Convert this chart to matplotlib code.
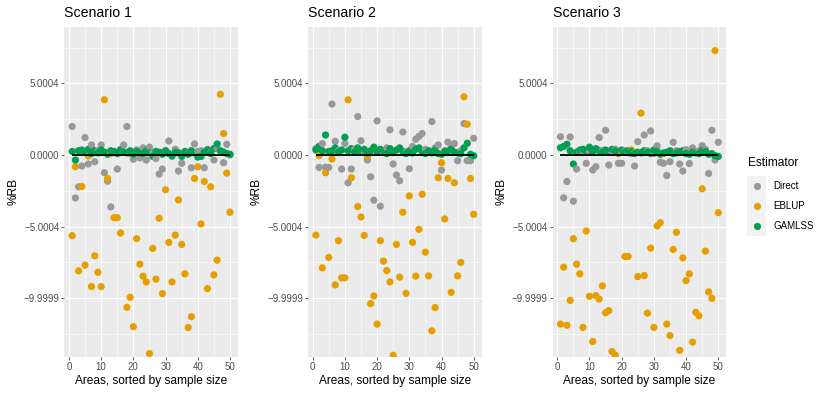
import matplotlib
matplotlib.use("Agg")
import matplotlib.pyplot as plt
from matplotlib.patches import Rectangle
from matplotlib.lines import Line2D

plt.rcParams['font.family'] = ['Liberation Sans', 'DejaVu Sans']

# ---------------- data ----------------
areas = list(range(1, 51))
scenarios = ["Scenario 1", "Scenario 2", "Scenario 3"]
estimators = ["Direct", "EBLUP", "GAMLSS"]
colors = {"Direct": "#999999", "EBLUP": "#E69F00", "GAMLSS": "#00A050"}

x_ticks = [0, 10, 20, 30, 40, 50]
y_tick_values = [5.0004, 0.0, -5.0004, -9.9999]
y_tick_labels = ["5.0004", "0.0000", "\u22125.0004", "\u22129.9999"]

direct_s1 = [1.99, -3.0, -2.22, -0.77, 1.22, -0.63, 0.7, -0.47, 0.3, 0.7,
             -1.24, -1.83, -3.63, 0.2, -0.98, 0.4, 0.7, 1.99, 0.1, -0.3,
             0.35, -0.2, 0.5, -0.35, 0.55, 0.15, -0.25, -1.33, -0.98, 0.3,
             0.98, -0.1, 0.4, -1.12, -0.58, 0.2, 0.1, -0.89, 0.77, 0.25,
             0.3, -0.89, 0.4, 0.15, -0.35, 0.45, 0.3, -0.54, 0.75, 0.0]
eblup_s1 = [-5.64, -0.82, -8.1, -2.2, -7.7, -0.07, -9.2, -7.05, -8.2, -9.2,
            3.86, -1.64, 0.1, -4.38, -4.38, -5.45, 0.2, -10.65, -9.95, -12.0,
            -5.85, -7.63, -8.47, -8.87, -13.88, -6.53, -8.68, -4.42, -9.69, -2.43,
            -6.11, -8.87, -5.6, -3.14, -6.25, -8.31, -12.06, -11.3, -1.64, -0.82,
            -4.82, -1.85, -9.34, -2.22, -8.38, -7.35, 4.24, 1.5, -1.26, -4.0]
gamlss_s1 = [0.25, -0.35, 0.3, 0.35, 0.2, 0.4, 0.1, 0.3, 0.15, 0.35,
             0.2, 0.05, 0.3, 0.25, 0.1, 0.35, 0.2, 0.15, 0.3, 0.05,
             0.25, 0.2, 0.1, 0.3, 0.15, -0.1, 0.25, 0.2, 0.05, 0.3,
             0.1, -0.05, 0.2, 0.15, -0.1, 0.25, 0.05, 0.3, 0.15, -0.15,
             -0.1, 0.2, 0.35, 0.1, 0.45, 0.77, 0.3, 0.2, 0.1, 0.05]

direct_s2 = [0.46, -0.87, 0.8, -0.85, -0.87, 3.56, 0.96, 0.3, -0.98, 0.81,
             -1.94, -0.98, 0.4, 2.69, 1.0, 0.2, -0.35, -1.52, -3.16, 2.39,
             -3.58, 0.3, 0.5, 1.76, -0.63, -1.4, -1.8, 1.61, 0.2, -0.96,
             0.6, 1.1, 1.3, 1.5, 0.4, 0.2, 2.34, 0.5, 0.7, -1.05,
             0.3, 0.9, 0.5, 0.8, -0.4, 0.3, 2.2, -0.4, -0.4, 1.17]
eblup_s2 = [-5.6, -0.05, -7.89, -1.24, -7.16, -0.28, -9.08, -5.99, -8.59, -8.59,
            3.86, -1.59, 0.2, -3.6, -4.33, -5.62, -0.1, -10.39, -9.85, -11.82,
            -5.99, -7.42, -8.08, -8.87, -14.0, -6.25, -8.54, -4.0, -9.67, -2.86,
            -6.11, -8.47, -5.2, -2.74, -6.79, -8.45, -12.29, -10.67, -1.59, -0.54,
            -4.47, -1.64, -9.6, -1.94, -8.45, -7.51, 4.07, 2.15, -1.64, -4.14]
gamlss_s2 = [0.35, 0.6, 0.3, 1.4, 0.25, 0.3, 0.5, 0.2, 0.35, 1.24,
             0.3, 0.45, 0.2, 0.5, 0.25, 0.4, 0.15, 0.3, 0.55, 0.2,
             0.4, 0.3, 0.1, 0.45, 0.2, 0.35, 0.5, 0.25, 0.1, 0.3,
             0.15, 0.4, 0.5, 0.2, 0.1, 0.3, 0.15, 0.35, 0.1, 0.05,
             0.25, 0.3, 0.4, 0.2, 0.15, 0.1, 0.5, 0.82, 0.05, -0.05]

direct_s3 = [1.28, -2.99, -1.85, 1.26, -3.23, -0.98, 0.28, 0.3, -0.58, 0.2,
             -1.05, -0.82, 1.22, 0.3, 1.73, -0.7, 0.2, 0.4, -0.58, -0.58,
             0.3, 0.2, 0.1, -0.77, 0.93, 0.2, 1.4, 0.3, 1.68, 0.1,
             0.65, -0.5, -0.58, -1.43, -0.47, 0.89, 0.3, -0.63, -1.12, 0.37,
             -0.6, 0.5, 0.2, 0.3, 0.65, 0.4, -1.29, 1.73, -0.35, 0.89]
eblup_s3 = [-11.82, -7.84, -11.9, -10.16, -5.85, -7.63, -8.31, -12.05, -5.31, -9.88,
            -13.04, -9.83, -10.07, -9.15, -11.03, -10.88, -13.74, -14.0, 0.1, 0.23,
            -7.09, -7.09, 0.35, 0.15, -8.5, 2.93, -8.43, -11.05, -6.51, -12.05,
            -4.96, -4.73, 0.1, -11.82, -12.62, -6.6, -5.4, -13.65, -7.19, -8.78,
            -8.31, -13.08, -11.0, -11.24, -2.36, -6.72, -9.57, -10.02, 7.3, -4.03]
gamlss_s3 = [0.5, 0.6, 0.75, 0.3, -0.63, 0.2, 0.35, 0.4, 0.3, 0.55,
             0.25, 0.45, 0.3, 0.2, 0.35, 0.25, 0.4, 0.3, 0.15, 0.35,
             0.2, 0.3, 0.25, 0.1, 0.2, 0.15, 0.3, 0.2, 0.1, 0.35,
             0.25, 0.05, 0.15, 0.2, 0.3, 0.1, 0.15, 0.25, 0.3, 0.1,
             0.05, 0.2, 0.15, 0.1, 0.3, 0.25, 0.05, 0.1, -0.05, -0.1]

panel_data = [
    {"Direct": direct_s1, "EBLUP": eblup_s1, "GAMLSS": gamlss_s1},
    {"Direct": direct_s2, "EBLUP": eblup_s2, "GAMLSS": gamlss_s2},
    {"Direct": direct_s3, "EBLUP": eblup_s3, "GAMLSS": gamlss_s3},
]

# ---------------- layout ----------------
W, H = 830, 393
fig = plt.figure(figsize=(W / 100, H / 100), dpi=100)

def fx(px):
    return px / W

def fy(py):
    return 1 - py / H

panel_left = [64.3, 308.0, 552.6]
panel_w = 173.6
panel_top, panel_bot = 26.7, 356.7

for k in range(3):
    L = panel_left[k]
    ax = fig.add_axes([fx(L), fy(panel_bot), panel_w / W, (panel_bot - panel_top) / H])
    ax.set_facecolor('#EBEBEB')
    for sp in ax.spines.values():
        sp.set_visible(False)
    ax.set_xlim(-1.45, 52.45)
    ax.set_ylim(-14.1, 8.97)
    ax.set_xticks(x_ticks)
    ax.set_xticks([5, 15, 25, 35, 45], minor=True)
    ax.set_yticks(y_tick_values)
    ax.set_yticklabels(y_tick_labels)
    ax.set_yticks([7.5, 2.5, -2.5, -7.5, -12.5], minor=True)
    ax.grid(which='major', color='white', lw=0.8)
    ax.grid(which='minor', color='white', lw=0.4)
    ax.set_axisbelow(True)
    ax.tick_params(which='major', length=2.0, width=0.55, color='#333333',
                   labelsize=7, labelcolor='#4D4D4D', pad=1.6)
    ax.tick_params(which='minor', length=0)

    d = panel_data[k]
    xs, ys, cs = [], [], []
    for i, a in enumerate(areas):
        for est in estimators:
            xs.append(a)
            ys.append(d[est][i])
            cs.append(colors[est])
    ax.scatter(xs, ys, c=cs, s=27, linewidths=0, zorder=2, clip_on=True)
    ax.plot([areas[0], areas[-1]], [0, 0], color='black', lw=1.3, zorder=3,
            solid_capstyle='butt')

    fig.text(fx(L), fy(17.3), scenarios[k], fontsize=10.2, ha='left', va='baseline')
    fig.text(fx(L + panel_w / 2), fy(381), "Areas, sorted by sample size",
             fontsize=8.6, ha='center', va='center')
    fig.text(fx(L - 51), fy((panel_top + panel_bot) / 2), "%RB", fontsize=8.6,
             rotation=90, ha='center', va='center')

# ---------------- legend ----------------
fig.text(fx(747.5), fy(163), "Estimator", fontsize=8.6, ha='left', va='center')
key_top = 175.5
key_h = 20.3
for j, est in enumerate(estimators):
    y0 = key_top + j * key_h
    fig.patches.append(Rectangle((fx(747.3), fy(y0 + key_h)), 18.7 / W, key_h / H,
                                 transform=fig.transFigure, facecolor='#F2F2F2',
                                 edgecolor='none'))
    fig.lines.append(Line2D([fx(756.6)], [fy(y0 + key_h / 2)], marker='o',
                            markersize=5.2, markerfacecolor=colors[est],
                            markeredgewidth=0, linestyle='none',
                            transform=fig.transFigure))
    fig.text(fx(773), fy(y0 + key_h / 2), est, fontsize=7, ha='left', va='center')

fig.savefig("out.png", dpi=100)
